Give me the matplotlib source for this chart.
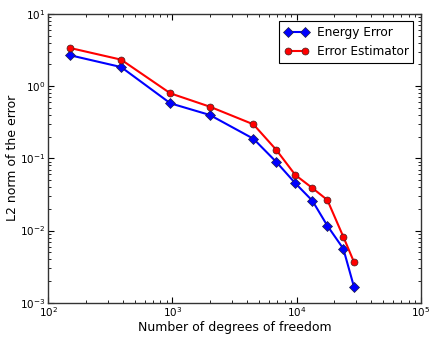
import matplotlib
matplotlib.use("Agg")
import matplotlib.pyplot as plt

dofs = [150, 386, 962, 2000, 4490, 6840, 9780, 13400, 17700, 23800, 29000]
energy_error = [2.68, 1.84, 0.579, 0.399, 0.187, 0.0898, 0.0451, 0.0259, 0.01166, 0.0056, 0.00166]
error_estimator = [3.38, 2.33, 0.796, 0.520, 0.296, 0.132, 0.0587, 0.0388, 0.0265, 0.0082, 0.00366]

plt.rcParams['font.family'] = ['DejaVu Sans']
fig = plt.figure(figsize=(4.30, 3.38), dpi=100)
ax = fig.add_axes([48.3/430, 1 - 302.7/338, (420.7-48.3)/430, (302.7-14)/338])

ax.plot(dofs, energy_error, color='#0000ff', marker='D', markersize=5, linewidth=1.5,
        markeredgecolor='#202040', markeredgewidth=0.5, label='Energy Error')
ax.plot(dofs, error_estimator, color='#ff0000', marker='o', markersize=5, linewidth=1.5,
        markeredgecolor='#402020', markeredgewidth=0.5, label='Error Estimator')

ax.set_xscale('log')
ax.set_yscale('log')
ax.set_xlim(1e2, 1e5)
ax.set_ylim(1e-3, 1e1)
ax.set_xlabel('Number of degrees of freedom', fontsize=9, labelpad=1)
ax.set_ylabel('L2 norm of the error', fontsize=9, labelpad=1)
ax.tick_params(which='both', direction='in', top=True, right=True, labelsize=7.5)
ax.tick_params(which='major', length=4, pad=2)
ax.tick_params(which='minor', length=2)
for s in ax.spines.values():
    s.set_linewidth(1.0)
    s.set_color('#333333')

leg = ax.legend(loc='upper right', fontsize=8.7, fancybox=False, framealpha=1,
                edgecolor='black', numpoints=2, handlelength=2.0, borderpad=0.4,
                handletextpad=0.7, borderaxespad=0.6)
leg.get_frame().set_linewidth(0.8)

fig.savefig('out.png', dpi=100, facecolor='white')
